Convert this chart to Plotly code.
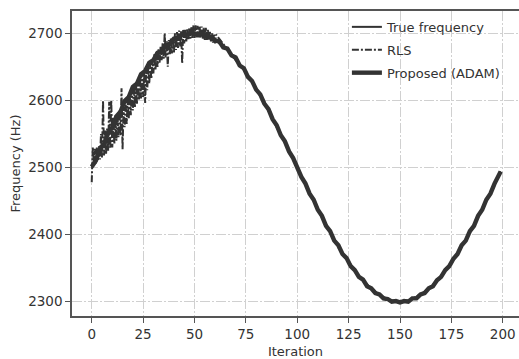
import plotly.graph_objects as go

# ---- data ----
true_iter = list(range(0, 200, 5)) + [199]
true_freq = [2500.0, 2531.3, 2561.8, 2590.8, 2617.6, 2641.4, 2661.8, 2678.2, 2690.2, 2697.5,
             2700.0, 2697.5, 2690.2, 2678.2, 2661.8, 2641.4, 2617.6, 2590.8, 2561.8, 2531.3,
             2500.0, 2468.7, 2438.2, 2409.2, 2382.4, 2358.6, 2338.2, 2321.8, 2309.8, 2302.5,
             2300.0, 2302.5, 2309.8, 2321.8, 2338.2, 2358.6, 2382.4, 2409.2, 2438.2, 2468.7,
             2493.7]

# RLS, iterations 0..60: lower and upper excursions within each iteration
rls_low = [2478, 2505, 2506, 2510, 2512, 2515, 2518, 2520, 2525, 2528,
           2530, 2535, 2540, 2545, 2548, 2527, 2560, 2565, 2572, 2578,
           2585, 2590, 2595, 2600, 2603, 2605, 2596, 2615, 2625, 2632,
           2640, 2645, 2650, 2655, 2660, 2662, 2664, 2650, 2668, 2670,
           2670, 2675, 2678, 2680, 2655, 2685, 2688, 2690, 2692, 2693,
           2693, 2694, 2694, 2693, 2692, 2690, 2690, 2689, 2688, 2686,
           2685]
rls_high = [2530, 2528, 2530, 2532, 2550, 2600, 2555, 2558, 2598, 2600,
            2575, 2578, 2580, 2585, 2618, 2590, 2598, 2602, 2608, 2615,
            2625, 2628, 2632, 2635, 2640, 2642, 2648, 2650, 2655, 2660,
            2670, 2672, 2676, 2680, 2685, 2700, 2688, 2690, 2692, 2695,
            2700, 2702, 2704, 2703, 2705, 2705, 2706, 2708, 2710, 2712,
            2712, 2711, 2710, 2710, 2708, 2708, 2705, 2703, 2700, 2698,
            2698]
# RLS after convergence
rls_late_iter = list(range(65, 200, 5)) + [199]
rls_late = [2680, 2660, 2643, 2616, 2592, 2560, 2533, 2499, 2470, 2437,
            2410, 2381, 2360, 2337, 2323, 2309, 2303, 2299, 2303, 2311,
            2321, 2339, 2357, 2383, 2408, 2439, 2467, 2494]

# Proposed (ADAM), every 2 iterations
adam_iter = list(range(0, 200, 2)) + [199]
adam_freq = [2501, 2510, 2528, 2535, 2552, 2559, 2576, 2583, 2599, 2605,
             2620, 2625, 2639, 2644, 2656, 2660, 2671, 2673, 2683, 2684,
             2692, 2692, 2698, 2697, 2701, 2699,
             2698, 2700, 2695, 2695, 2689, 2688, 2679, 2677, 2667, 2664,
             2652, 2648, 2635, 2629, 2616, 2609, 2595, 2587, 2572, 2563,
             2548, 2539, 2524, 2514, 2499,
             2486, 2476, 2461, 2452, 2437, 2428, 2413, 2405, 2391, 2384,
             2371, 2365, 2353, 2347, 2337, 2333, 2323, 2320, 2313, 2311,
             2305, 2304, 2300, 2301, 2299,
             2301, 2300, 2305, 2305, 2311, 2313, 2320, 2323, 2332, 2337,
             2347, 2353, 2364, 2371, 2384, 2391, 2405, 2413, 2428, 2437,
             2452, 2461, 2476, 2486,
             2494]

x_ticks = [0, 25, 50, 75, 100, 125, 150, 175, 200]
y_ticks = [2300, 2400, 2500, 2600, 2700]

# build the RLS polyline: low at each iteration, high half an iteration later
rls_x, rls_y = [], []
for i, (lo, hi) in enumerate(zip(rls_low, rls_high)):
    rls_x += [i, i + 0.5]
    rls_y += [lo, hi]
rls_x += rls_late_iter
rls_y += rls_late

INK = "#333333"
FONT = "DejaVu Sans"

fig = go.Figure()
fig.add_trace(go.Scatter(x=true_iter, y=true_freq, mode="lines", name="True frequency",
                         legendgroup="a", line=dict(color=INK, width=2)))
fig.add_trace(go.Scatter(x=rls_x, y=rls_y, mode="lines", name="RLS",
                         legendgroup="b", line=dict(color=INK, width=2, dash="7px,2px,2px,2px")))
fig.add_trace(go.Scatter(x=adam_iter, y=adam_freq, mode="lines", name="Proposed (ADAM)",
                         legendgroup="c", line=dict(color=INK, width=4.4)))

grid = dict(showgrid=True, gridcolor="#d0d0d0", gridwidth=1.4, griddash="10px,2px,2px,2px")

fig.update_layout(
    width=519, height=359,
    margin=dict(l=72, r=0, t=11, b=43),
    paper_bgcolor="white", plot_bgcolor="white",
    font=dict(family=FONT, size=13, color=INK),
    showlegend=True,
    legend=dict(x=0.615, y=0.997, xanchor="left", yanchor="top",
                bgcolor="rgba(255,255,255,0)", borderwidth=0,
                font=dict(family=FONT, size=13, color=INK),
                tracegroupgap=3),
    xaxis=dict(range=[-9.6, 207.9], tickvals=x_ticks, ticks="outside", ticklen=5,
               tickwidth=1.3, tickcolor="#555555", showline=True, linecolor="#555555",
               linewidth=1.5, mirror=True, zeroline=False,
               title=dict(text="Iteration", font=dict(size=13), standoff=6),
               tickfont=dict(size=13.5), **grid),
    yaxis=dict(range=[2278.7, 2733.2], tickvals=y_ticks, ticks="outside", ticklen=5,
               tickwidth=1.3, tickcolor="#555555", showline=True, linecolor="#555555",
               linewidth=1.5, mirror=False, zeroline=False,
               title=dict(text="Frequency (Hz)", font=dict(size=13), standoff=5),
               tickfont=dict(size=13.5), **grid),
)

fig.write_html("out.html", config={"displayModeBar": False},
               post_script="document.body.style.margin='0';document.body.style.overflow='hidden';")
